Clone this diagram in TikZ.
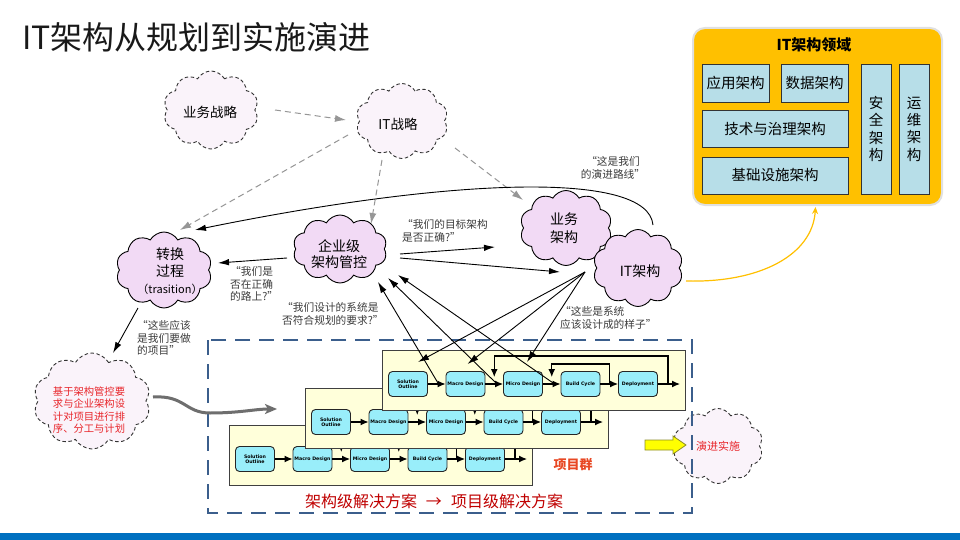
\documentclass[tikz,border=0pt]{standalone}
\usepackage{fontspec}
\setmainfont{Noto Sans CJK SC}
\newfontfamily\boxfont{DejaVu Sans}
\usetikzlibrary{shapes.symbols,arrows.meta,calc}
\definecolor{lav}{RGB}{242,218,245}
\definecolor{palelav}{RGB}{250,243,250}
\definecolor{gold}{RGB}{255,192,0}
\definecolor{paleblue}{RGB}{183,222,232}
\definecolor{cyanbox}{RGB}{153,238,250}
\definecolor{panelyel}{RGB}{255,255,218}
\definecolor{frameblue}{RGB}{59,94,140}
\definecolor{capred}{RGB}{192,0,0}
\definecolor{brred}{RGB}{232,37,42}
\definecolor{orred}{RGB}{232,72,36}
\definecolor{qgray}{RGB}{60,60,60}
\definecolor{stripe}{RGB}{0,112,192}
\definecolor{arrgray}{RGB}{150,150,150}
\definecolor{thickgray}{RGB}{110,110,110}
\definecolor{yarrow}{RGB}{255,255,0}
\definecolor{yedge}{RGB}{140,140,40}
\newcommand\projpanel[3]{%
 \begin{scope}[shift={(#1,#2)}]
  \draw[panel] (0,0) rectangle (303,60);
  \node[pbox] (so#3) at (26,34) {Solution\\Outline};
  \node[pbox] (ma#3) at (83.5,34) {Macro Design};
  \node[pbox] (mi#3) at (141,34) {Micro Design};
  \node[pbox] (bc#3) at (198.5,34) {Build Cycle};
  \node[pbox] (dp#3) at (256,34) {Deployment};
  \coordinate (out#3) at (298,34);
  \draw[parr] (so#3) -- (ma#3);
  \draw[parr] (ma#3) -- (mi#3);
  \draw[parr] (mi#3) -- (bc#3);
  \draw[parr] (bc#3) -- (dp#3);
  \draw[parr] (dp#3) -- (out#3);
  \draw[parr] ($(dp#3.east)+(10,0)$) -- ++(0,-28) -| ($(ma#3.east)!.5!(mi#3.west)+(0,-7)$);
  \draw[parr] ($(bc#3.east)!.5!(dp#3.west)$) -- ++(0,-20) -| ($(mi#3.east)!.5!(bc#3.west)+(0,-7)$);
 \end{scope}}
\begin{document}
\begin{tikzpicture}[x=1pt,y=-1pt,
  cloudbase/.style={cloud, cloud puffs=10, cloud puff arc=120, cloud ignores aspect, inner sep=0pt},
  solidcloud/.style={cloudbase, draw=black, line width=0.9pt, fill=lav},
  dashcloud/.style={cloudbase, draw=black!80, line width=0.9pt, dash pattern=on 3.5pt off 2.5pt, fill=palelav},
  ctext/.style={font=\fontsize{14}{17}\selectfont, align=center, inner sep=0pt},
  qtext/.style={font=\fontsize{10.7}{12.7}\selectfont, align=left, text=qgray, inner sep=0pt, anchor=west},
  arr/.style={-{Latex[length=11pt,width=6.5pt]}, line width=0.9pt, black},
  garr/.style={-{Latex[length=11pt,width=7pt]}, line width=1pt, arrgray, dash pattern=on 6pt off 4pt},
  tarr/.style={-{Stealth[length=12pt,width=10pt,inset=3pt]}, line width=3pt, thickgray},
  oarr/.style={-{Stealth[length=7pt,width=6pt]}, line width=1.2pt, gold},
  pbox/.style={rectangle, rounded corners=4pt, draw=black!85, line width=0.9pt, fill=cyanbox, minimum width=39pt, minimum height=25pt, inner sep=0pt, align=center, font=\boxfont\bfseries\fontsize{4.7}{5.2}\selectfont},
  panel/.style={draw=black!75, line width=0.9pt, fill=panelyel},
  parr/.style={-{Latex[length=8pt,width=7pt]}, line width=1.2pt, black},
  ibox/.style={rectangle, draw=black!80, line width=0.9pt, fill=paleblue, inner sep=0pt, font=\fontsize{14.5}{17.3}\selectfont, align=center},
  itboxst/.style={rectangle, rounded corners=12pt, fill=gold, draw=black!12, line width=2pt, minimum width=249pt, minimum height=177pt}
]
\useasboundingbox (0,0) rectangle (960,540);
\fill[white] (0,0) rectangle (960,540);
\fill[stripe] (0,533) rectangle (960,540);

% title
\node[anchor=west, font=\fontsize{32}{36}\selectfont, text=black!90, inner sep=0pt] (title) at (22,37) {IT架构从规划到实施演进};

% IT architecture domain box
\node[itboxst] (itbox) at (817.5,116.5) {};
\node[font=\bfseries\fontsize{15}{17}\selectfont, inner sep=0pt] (itboxt) at (814,45) {IT架构领域};
\node[ibox, minimum width=67pt, minimum height=38pt] (yyjg) at (735.5,83) {应用架构};
\node[ibox, minimum width=67pt, minimum height=38pt] (sjjg) at (814.5,83) {数据架构};
\node[ibox, minimum width=146pt, minimum height=37pt] (jszl) at (775,128.5) {技术与治理架构};
\node[ibox, minimum width=146pt, minimum height=37pt] (jcss) at (775,175.5) {基础设施架构};
\node[ibox, minimum width=30pt, minimum height=130pt] (aqjg) at (876,129) {安\\全\\架\\构};
\node[ibox, minimum width=30pt, minimum height=130pt] (ywjgv) at (914,129) {运\\维\\架\\构};

% evolution cloud (behind frame)
\node[dashcloud, minimum width=90pt, minimum height=75pt] (yjss) at (718,446) {};
\node[font=\fontsize{11}{13}\selectfont, text=brred, inner sep=0pt] (yjsst) at (718,446) {演进实施};

% project frame
\draw[frameblue, line width=2.6pt, dash pattern=on 15pt off 9pt] (208,340) rectangle (692,513);

% project panels
\projpanel{229}{425}{3}
\projpanel{305}{388}{2}
\projpanel{382}{350}{1}

\node[font=\bfseries\fontsize{13}{15}\selectfont, text=orred, inner sep=0pt] (xmq) at (573,465) {项目群};
\node[font=\fontsize{16}{18}\selectfont, text=capred, inner sep=0pt] (cap) at (434,501) {架构级解决方案\hspace{9pt}→\hspace{9pt}项目级解决方案};

% yellow block arrow
\draw[yedge, fill=yarrow, line width=0.8pt] (645,440) -- (673,440) -- (673,436) -- (686,445) -- (673,454) -- (673,450) -- (645,450) -- cycle;

% clouds
\node[dashcloud, minimum width=95pt, minimum height=78pt] (ywzl) at (211,110) {};
\node[dashcloud, minimum width=92pt, minimum height=75pt] (itzl) at (402,121) {};
\node[solidcloud, minimum width=96pt, minimum height=76pt] (zhgc) at (164,270) {};
\node[solidcloud, minimum width=94pt, minimum height=68pt] (qyj) at (340,249) {};
\node[solidcloud, minimum width=92pt, minimum height=75pt] (ywjg) at (566,228) {};
\node[solidcloud, minimum width=90pt, minimum height=77pt] (itjg) at (638,268) {};
\node[dashcloud, minimum width=117pt, minimum height=96pt] (redc) at (92,401) {};

\node[ctext, font=\fontsize{13.5}{16}\selectfont] (ywzlt) at (210,112) {业务战略};
\node[ctext, font=\fontsize{13.5}{16}\selectfont] (itzlt) at (398,124) {IT战略};
\node[ctext] (zhgct) at (170,271) {转换\\过程\\{\fontsize{11}{14}\selectfont （trasition）}};
\node[ctext, font=\fontsize{14}{16}\selectfont] (qyjt) at (339,254) {企业级\\架构管控};
\node[ctext, font=\fontsize{14}{18}\selectfont] (ywjgt) at (564,228) {业务\\架构};
\node[ctext] (itjgt) at (640,271) {IT架构};
\node[font=\fontsize{10.3}{12.3}\selectfont, text=brred, align=center, inner sep=0pt] (redt) at (89,410) {基于架构管控要\\求与企业架构设\\计对项目进行排\\序、分工与计划};

% connectors
\draw[garr] ($(ywzl)+(64,0)$) -- ($(itzl)+(-56,-1)$);
\draw[garr] ($(itzl)+(-54,14)$) -- ($(zhgc)+(16,-40)$);
\draw[garr] ($(itzl)+(-20,39)$) -- ($(qyj)+(31,-25)$);
\draw[garr] ($(itzl)+(53,27)$) -- ($(ywjg)+(-43,-28)$);
\draw[arr] ($(itjg)+(15,-43)$) .. controls +(-5,-55) and +(255,-52) .. ($(zhgc)+(31,-40)$);
\draw[arr] ($(qyj)+(-53,9)$) -- ($(zhgc)+(54,-7)$);
\draw[arr] ($(qyj)+(60,5)$) -- ($(ywjg)+(-71,19)$);
\draw[arr] ($(qyj)+(60,9)$) -- ($(itjg)+(-78,4)$);
\draw[arr] ($(itjg)+(-53,4)$) -- ($(so1.north)+(10,-9)$);
\draw[arr] ($(itjg)+(-53,4)$) -- ($(ma1.north)+(2,-7)$);
\draw[arr] ($(itjg)+(-53,4)$) -- ($(mi1.north)+(4,-9)$);
\draw[arr] ($(ma1.west)+(-7,0)$) -- ($(qyj)+(38,33)$);
\draw[arr] ($(mi1.west)+(-6,0)$) -- ($(qyj)+(48,29)$);
\draw[arr] ($(bc1.west)+(-6,0)$) -- ($(qyj)+(58,26)$);
\draw[arr] ($(zhgc)+(-26,38)$) -- ($(redc)+(21,-48)$);
\coordinate (gin) at (277,409);
\draw[tarr] ($(redc)+(61,-4)$) .. controls (185,395) and (185,413) .. (210,413) .. controls (240,413) and (255,409) .. (gin);
\draw[oarr] ($(itjg)+(48,13)$) .. controls +(74,2) and +(-3,48) .. ($(itbox.south)+(-2,1)$);

% quotes
\node[qtext, align=center, anchor=center] (q1) at (613,168) {“这是我们\\的演进路线”};
\node[qtext] (q2) at (402,231) {“我们的目标架构\\是否正确?”};
\node[qtext] (q3) at (230,284) {“我们是\\否在正确\\的路上?”};
\node[qtext] (q4) at (282,314) {“我们设计的系统是\\否符合规划的要求?”};
\node[qtext] (q5) at (560,318) {“这些是系统\\应该设计成的样子”};
\node[qtext] (q6) at (137,338) {“这些应该\\是我们要做\\的项目”};
\end{tikzpicture}
\end{document}
